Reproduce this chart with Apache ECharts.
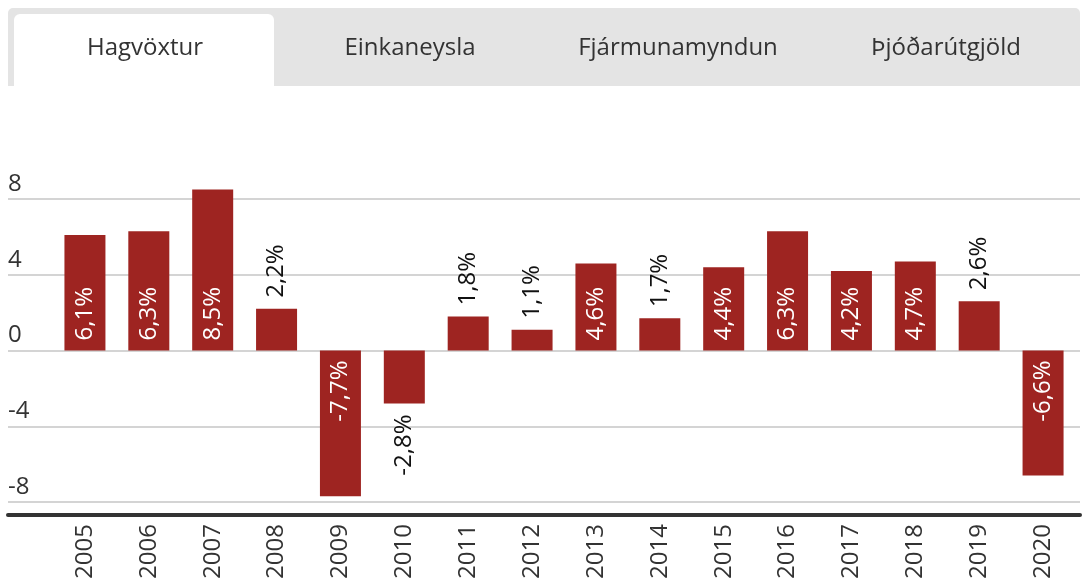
<!DOCTYPE html>
<html>
<head>
<meta charset="utf-8">
<script src="https://cdn.jsdelivr.net/npm/echarts@6/dist/echarts.min.js"></script>
<style>
  html, body { margin: 0; padding: 0; background: #fff; }
  #chart { width: 1087px; height: 579px; }
</style>
</head>
<body>
<div id="chart"></div>
<script>
var years = ['2005', '2006', '2007', '2008', '2009', '2010', '2011', '2012',
  '2013', '2014', '2015', '2016', '2017', '2018', '2019', '2020'];
var growth = [6.1, 6.3, 8.5, 2.2, -7.7, -2.8, 1.8, 1.1, 4.6, 1.7, 4.4, 6.3, 4.2, 4.7, 2.6, -6.6];
var tabs = ['Hagvöxtur', 'Einkaneysla', 'Fjármunamyndun', 'Þjóðarútgjöld'];
var yTicks = { min: -8, max: 8, interval: 4 };

var font = '"Open Sans", "Noto Sans", sans-serif';
var barColor = '#9e2421';

// labels sit inside big bars (white) and outside small ones (black)
function fmt(v) { return String(v.toFixed(1)).replace('.', ',') + '%'; }

var barData = growth.map(function (v) {
  var inside = Math.abs(v) >= 4;
  var pos, align;
  if (v >= 0) {
    pos = inside ? 'insideBottom' : 'top';
    align = 'left';
  } else {
    pos = inside ? 'insideTop' : 'bottom';
    align = 'right';
  }
  return {
    value: v,
    label: {
      show: true,
      position: pos,
      rotate: 90,
      align: align,
      verticalAlign: 'middle',
      distance: inside ? 10 : 11,
      color: inside ? '#fff' : '#111',
      fontSize: 24,
      fontFamily: font,
      formatter: fmt(v)
    }
  };
});

var tabW = 1072 / tabs.length;
var graphics = [
  { type: 'rect', shape: { x: 8, y: 8, width: 1072, height: 78, r: [5, 5, 0, 0] }, style: { fill: '#e4e4e4' }, z: 0 },
  { type: 'rect', shape: { x: 14, y: 14, width: 260, height: 72, r: [6, 6, 0, 0] }, style: { fill: '#fff' }, z: 1 }
];
tabs.forEach(function (t, i) {
  graphics.push({
    type: 'text',
    x: 8 + tabW * i + tabW / 2 + (i === 0 ? 3 : 0),
    y: 48,
    z: 2,
    style: { text: t, fill: '#333', fontSize: 24, fontFamily: font, align: 'center', verticalAlign: 'middle' }
  });
});

var chart = echarts.init(document.getElementById('chart'));
chart.setOption({
  animation: false,
  graphic: graphics,
  grid: [
    { left: 8, right: 7, top: 199, bottom: 77, outerBoundsMode: 'none' },
    { left: 53, right: 12, top: 199, bottom: 77, outerBoundsMode: 'none' }
  ],
  xAxis: [
    {
      type: 'value', gridIndex: 0, min: 0, max: 1,
      axisLine: { show: true, onZero: false, lineStyle: { color: '#333', width: 4 } },
      offset: 13,
      axisTick: { show: false }, axisLabel: { show: false }, splitLine: { show: false }
    },
    {
      type: 'category', gridIndex: 1, data: years,
      axisLine: { show: false }, axisTick: { show: false },
      axisLabel: { rotate: 90, margin: 22, color: '#333', fontSize: 24, fontFamily: font, interval: 0 }
    }
  ],
  yAxis: [
    {
      type: 'value', gridIndex: 0, min: yTicks.min, max: yTicks.max, interval: yTicks.interval,
      axisLine: { show: false }, axisTick: { show: false },
      splitLine: { lineStyle: { color: '#d4d4d4', width: 2 } },
      axisLabel: { inside: true, margin: 0, align: 'left', verticalAlign: 'bottom', padding: [0, 0, 3, 0], color: '#333', fontSize: 24, fontFamily: font }
    },
    {
      type: 'value', gridIndex: 1, min: yTicks.min, max: yTicks.max, interval: yTicks.interval,
      show: false, splitLine: { show: false }
    }
  ],
  series: [{
    type: 'bar',
    xAxisIndex: 1,
    yAxisIndex: 1,
    data: barData,
    barWidth: 41,
    clip: false,
    itemStyle: { color: barColor }
  }]
});
</script>
</body>
</html>
